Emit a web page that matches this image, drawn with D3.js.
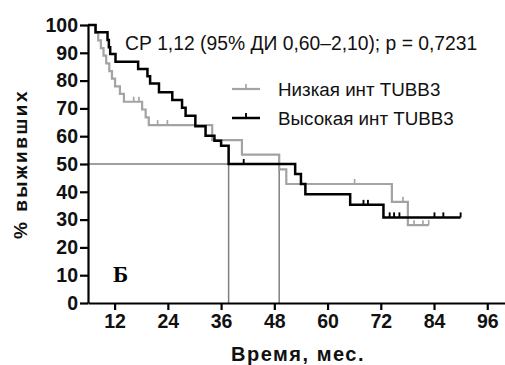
<!DOCTYPE html>
<html>
<head>
<meta charset="utf-8">
<script src="https://cdn.jsdelivr.net/npm/d3@7"></script>
<style>
  body { margin: 0; background: #fff; }
  svg { display: block; }
  text { font-family: Arial, "Liberation Sans", sans-serif; }
</style>
</head>
<body>
<svg id="chart" width="505" height="365"></svg>
<script>
// Kaplan-Meier steps: [month, % surviving after the drop]
var lowSteps = [
    [6, 100], [7.7, 97.2], [8.3, 94.5], [8.9, 91.7], [9.5, 89.0], [10.1, 86.2],
    [10.8, 83.4], [11.4, 80.7], [12.1, 77.9], [13.2, 75.2], [14.1, 72.4],
    [18.2, 69.6], [19.0, 66.8], [19.7, 64.0], [34.0, 58.6], [40.7, 53.4],
    [49.1, 48.1], [50.7, 42.8], [74.5, 36.4], [78.1, 28.0]
];
var lowEnd = 82.8;
var lowCensored = [16.3, 17.5, 21.7, 23.9, 66.1, 77.0, 79.5, 81.5, 82.8];

var highSteps = [
    [6, 100], [7.7, 97.4], [10.4, 94.6], [10.7, 92.0], [11.0, 89.6], [12.2, 86.8],
    [17.3, 84.2], [19.4, 81.6], [20.0, 79.0], [22.0, 75.8], [25.0, 73.0],
    [27.2, 70.2], [28.0, 67.4], [30.2, 63.6], [32.5, 60.2], [34.5, 58.4],
    [36.0, 56.6], [37.7, 50.0], [52.7, 46.4], [54.0, 42.8], [55.0, 39.1],
    [65.1, 35.3], [72.6, 30.8]
];
var highEnd = 90.0;
var highCensored = [41.1, 68.1, 69.1, 74.0, 75.0, 76.2, 84.1, 86.1, 90.0];

var medianLow = 49.1;
var medianHigh = 37.7;

var xTicks = [12, 24, 36, 48, 60, 72, 84, 96];
var yTicks = [0, 10, 20, 30, 40, 50, 60, 70, 80, 90, 100];

var seriesNames = ['Низкая инт TUBB3', 'Высокая инт TUBB3'];
var titleText = 'СР 1,12 (95% ДИ 0,60–2,10); p = 0,7231';

var svg = d3.select('#chart');

var x = d3.scaleLinear().domain([6, 100]).range([88, 505]);
var y = d3.scaleLinear().domain([0, 100]).range([303, 25]);

function stepAt(steps, t) {
    var v = steps[0][1];
    steps.forEach(function(s) { if (s[0] <= t) v = s[1]; });
    return v;
}

// median guide lines
var guide = svg.append('g')
    .attr('stroke', '#7f7f7f')
    .attr('stroke-width', 1.5)
    .attr('fill', 'none');
guide.append('line')
    .attr('x1', x(6)).attr('x2', x(medianLow))
    .attr('y1', y(50)).attr('y2', y(50));
[medianHigh, medianLow].forEach(function(m) {
    guide.append('line')
        .attr('x1', x(m)).attr('x2', x(m))
        .attr('y1', y(50)).attr('y2', y(0));
});

// curves
var line = d3.line()
    .x(function(d) { return x(d[0]); })
    .y(function(d) { return y(d[1]); })
    .curve(d3.curveStepAfter);

function drawCurve(steps, end, censored, color, width) {
    var pts = steps.concat([[end, steps[steps.length - 1][1]]]);
    svg.append('path')
        .attr('d', line(pts))
        .attr('fill', 'none')
        .attr('stroke', color)
        .attr('stroke-width', width);
    svg.append('g').selectAll('line')
        .data(censored)
        .enter()
        .append('line')
        .attr('x1', function(d) { return x(d); })
        .attr('x2', function(d) { return x(d); })
        .attr('y1', function(d) { return y(stepAt(steps, d)); })
        .attr('y2', function(d) { return y(stepAt(steps, d)) - 5; })
        .attr('stroke', color)
        .attr('stroke-width', width * 0.75);
}

drawCurve(lowSteps, lowEnd, lowCensored, '#a3a3a3', 2.2);
drawCurve(highSteps, highEnd, highCensored, '#000', 2.5);

// axes
var yAxis = svg.append('g')
    .attr('transform', 'translate(' + x(6) + ',0)')
    .call(d3.axisLeft(y).tickValues(yTicks).tickSize(8).tickSizeOuter(0).tickPadding(2));
var xAxis = svg.append('g')
    .attr('transform', 'translate(0,' + y(0) + ')')
    .call(d3.axisBottom(x).tickValues(xTicks).tickSize(7).tickSizeOuter(0).tickPadding(4));

[yAxis, xAxis].forEach(function(a) {
    a.selectAll('path, line').attr('stroke', '#000').attr('stroke-width', 2.2);
    a.selectAll('text')
        .attr('fill', '#111')
        .style('font-family', 'Arial, "Liberation Sans", sans-serif')
        .style('font-weight', 'bold')
        .style('font-size', '19.5px');
});

// axis titles
svg.append('text')
    .attr('transform', 'translate(27,164) rotate(-90)')
    .attr('text-anchor', 'middle')
    .style('font-weight', 'bold')
    .style('font-size', '19px')
    .style('letter-spacing', '2.5px')
    .attr('fill', '#111')
    .text('%  выживших');

svg.append('text')
    .attr('x', 298)
    .attr('y', 361)
    .attr('text-anchor', 'middle')
    .style('font-weight', 'bold')
    .style('font-size', '20px')
    .style('letter-spacing', '1.5px')
    .attr('fill', '#111')
    .text('Время, мес.');

// hazard ratio text
svg.append('text')
    .attr('x', 125)
    .attr('y', 50)
    .style('font-size', '19.3px')
    .attr('fill', '#111')
    .text(titleText);

// legend
var legend = svg.append('g');
[['#a3a3a3', 2.2, 89], ['#000', 2.5, 118]].forEach(function(s, i) {
    legend.append('line')
        .attr('x1', 232).attr('x2', 260)
        .attr('y1', s[2]).attr('y2', s[2])
        .attr('stroke', s[0]).attr('stroke-width', s[1]);
    legend.append('line')
        .attr('x1', 246).attr('x2', 246)
        .attr('y1', s[2]).attr('y2', s[2] - 5)
        .attr('stroke', s[0]).attr('stroke-width', s[1] * 0.75);
    legend.append('text')
        .attr('x', 278)
        .attr('y', s[2] + 6.5)
        .style('font-size', '18.8px')
        .attr('fill', '#111')
        .text(seriesNames[i]);
});

// panel letter
svg.append('text')
    .attr('x', 113)
    .attr('y', 282)
    .style('font-family', '"Liberation Serif", "Times New Roman", serif')
    .style('font-weight', 'bold')
    .style('font-size', '23px')
    .attr('fill', '#000')
    .text('Б');
</script>
</body>
</html>
